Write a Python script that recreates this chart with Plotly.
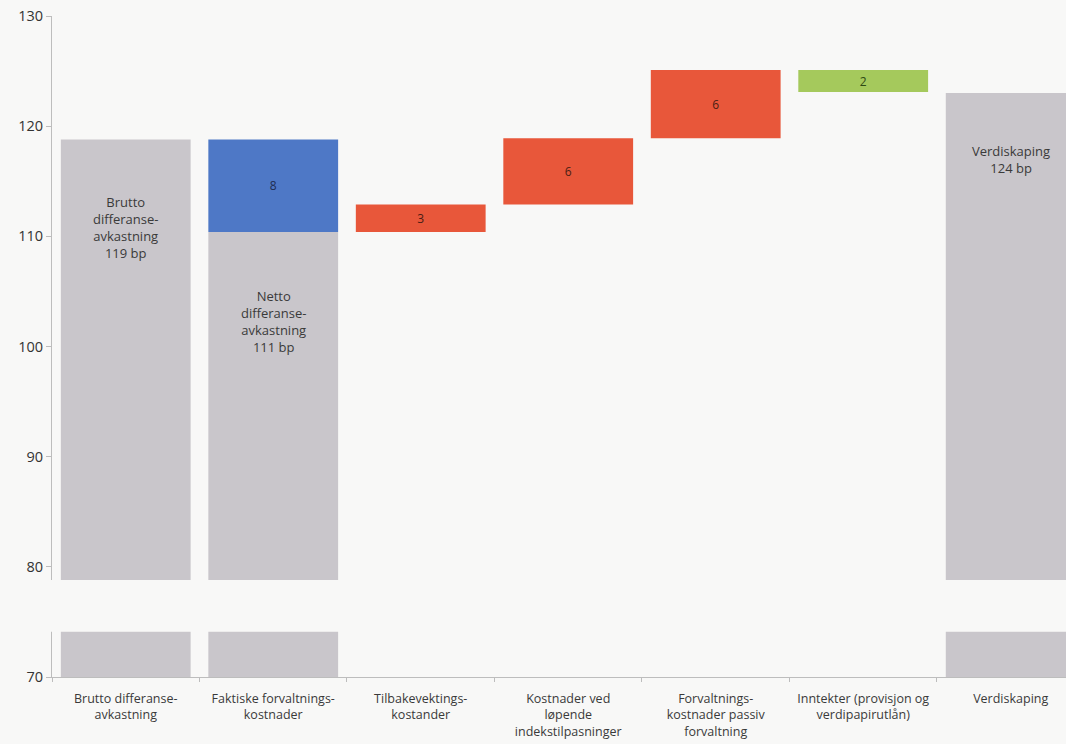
import plotly.graph_objects as go

# ---- data (basis points) ----
categories = [
    "Brutto differanse-<br>avkastning",
    "Faktiske forvaltnings-<br>kostnader",
    "Tilbakevektings-<br>kostander",
    "Kostnader ved<br>løpende<br>indekstilpasninger",
    "Forvaltnings-<br>kostnader passiv<br>forvaltning",
    "Inntekter (provisjon og<br>verdipapirutlån)",
    "Verdiskaping",
]
# grey total columns (bottom at axis minimum)
total_cats = [categories[0], categories[1], categories[6]]
total_values = [118.8, 110.4, 123.0]
total_labels = [
    "Brutto<br>differanse-<br>avkastning<br>119 bp",
    "Netto<br>differanse-<br>avkastning<br>111 bp",
    "Verdiskaping<br>124 bp",
]
total_label_y = [110.8, 102.3, 117.0]

# floating step columns
step_cats = [categories[1], categories[2], categories[3], categories[4], categories[5]]
step_base = [110.4, 110.4, 112.9, 118.9, 123.1]
step_size = [8.4, 2.5, 6.0, 6.2, 2.0]
step_labels = ["8", "3", "6", "6", "2"]
step_colors = ["#4e78c6", "#e8573a", "#e8573a", "#e8573a", "#a5c95c"]
step_text_colors = ["#1e2d52", "#4a1e14", "#4a1e14", "#4a1e14", "#2e4a14"]

y_min, y_max = 70, 130
y_ticks = [70, 80, 90, 100, 110, 120, 130]
break_low, break_high = 74.1, 78.8

bg = "#f8f8f7"
font_fam = "'Open Sans', Lato, sans-serif"
text_col = "#3a3a3a"

fig = go.Figure()
fig.add_trace(go.Bar(
    x=total_cats, y=[v - y_min for v in total_values], base=[y_min] * len(total_values),
    marker=dict(color="#c9c6cb", line=dict(width=0)), hoverinfo="skip",
))
fig.add_trace(go.Bar(
    x=step_cats, y=step_size, base=step_base,
    marker=dict(color=step_colors, line=dict(width=0)),
    text=step_labels, textposition="inside", insidetextanchor="middle",
    textangle=0, constraintext="none",
    textfont=dict(color=step_text_colors, size=12, family=font_fam),
    hoverinfo="skip",
))

for c, lab, yy in zip(total_cats, total_labels, total_label_y):
    fig.add_annotation(x=c, y=yy, xref="x", yref="y", text=lab, showarrow=False,
                       font=dict(size=13, color="#3a3a3a", family=font_fam))

# axis break band
fig.add_shape(type="rect", xref="paper", yref="y", x0=-0.02, x1=1.0,
              y0=break_low, y1=break_high, fillcolor=bg, line=dict(width=0),
              layer="above")

fig.update_layout(
    width=1066, height=744,
    margin=dict(l=52, r=0, t=16, b=67),
    paper_bgcolor=bg, plot_bgcolor=bg,
    barmode="overlay", bargap=0.12, showlegend=False,
    font=dict(family=font_fam, color=text_col, size=12),
    xaxis=dict(
        type="category", categoryorder="array", categoryarray=categories,
        range=[-0.5, 6.375], tickson="boundaries", ticks="outside", ticklen=4,
        tickcolor="#bdbdbd", showline=True, linecolor="#bdbdbd", linewidth=1,
        showgrid=False, tickfont=dict(size=12.5, color=text_col),
        ticklabelstandoff=10, fixedrange=True,
    ),
    yaxis=dict(
        range=[y_min, y_max], tickvals=y_ticks, ticks="outside", ticklen=5,
        tickcolor="#bdbdbd", showline=True, linecolor="#bdbdbd", linewidth=1,
        showgrid=False, zeroline=False,
        tickfont=dict(size=14.5, color="#333333"),
        fixedrange=True,
    ),
)

fig.write_html(
    "out.html",
    config={"displayModeBar": False},
    post_script="document.body.style.margin='0';document.body.style.background='%s';" % bg,
)
